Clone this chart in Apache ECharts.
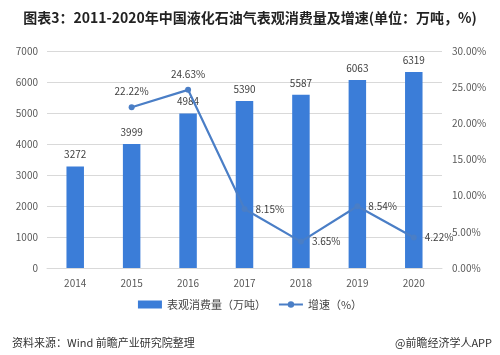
<!DOCTYPE html>
<html><head><meta charset="utf-8">
<script src="https://cdn.jsdelivr.net/npm/echarts@6/dist/echarts.min.js"></script>
<style>html,body{margin:0;padding:0;background:#fff}#c{width:500px;height:355px}</style>
</head><body><div id="c"></div>
<script>
var categories = ['2014','2015','2016','2017','2018','2019','2020'];
var consumption = [3272, 3999, 4984, 5390, 5587, 6063, 6319];
var growth = [null, 22.22, 24.63, 8.15, 3.65, 8.54, 4.22];
var leftTicks = [0, 7000, 1000];
var rightTicks = [0, 30, 5];
var titleText = '图表3：2011-2020年中国液化石油气表观消费量及增速(单位：万吨，%)';
var sourceText = '资料来源：Wind 前瞻产业研究院整理';
var brandText = '@前瞻经济学人APP';
var seriesNames = ['表观消费量（万吨）', '增速（%）'];
var growthLabelPos = [null, 'top', 'top', 'right', 'right', 'right', 'right'];

var font = '"Noto Sans CJK SC", "Noto Sans", sans-serif';
var chart = echarts.init(document.getElementById('c'), null, {renderer: 'canvas'});
chart.setOption({
  animation: false,
  textStyle: {fontFamily: font},
  title: [
    {text: titleText, left: 'center', top: 6, textStyle: {fontSize: 14, fontWeight: 'bold', color: '#222', fontFamily: font}},
    {text: sourceText, left: 7, top: 332, textStyle: {fontSize: 11, fontWeight: 'normal', color: '#333', fontFamily: font}},
    {text: brandText, right: 3, top: 332, textStyle: {fontSize: 11, fontWeight: 'normal', color: '#333', fontFamily: font}}
  ],
  legend: {
    bottom: 40, left: 'center', itemGap: 12, itemWidth: 24, itemHeight: 8,
    textStyle: {fontSize: 11, color: '#444', fontFamily: font},
    data: [{name: seriesNames[0], icon: 'rect'}, {name: seriesNames[1]}]
  },
  grid: {left: 47, right: 58, top: 51, bottom: 87, containLabel: false},
  xAxis: {
    type: 'category', data: categories,
    axisLine: {lineStyle: {color: '#d9d9d9'}},
    axisTick: {show: false},
    axisLabel: {color: '#595959', fontSize: 10, margin: 10}
  },
  yAxis: [
    {type: 'value', min: leftTicks[0], max: leftTicks[1], interval: leftTicks[2],
     axisLine: {show: false}, axisTick: {show: false},
     axisLabel: {color: '#595959', fontSize: 10, margin: 9, formatter: function (v) { return String(v); }},
     splitLine: {lineStyle: {color: '#d9d9d9'}}},
    {type: 'value', min: rightTicks[0], max: rightTicks[1], interval: rightTicks[2],
     axisLine: {show: false}, axisTick: {show: false}, splitLine: {show: false},
     axisLabel: {color: '#595959', fontSize: 10, margin: 10, formatter: function (v) { return v.toFixed(2) + '%'; }}}
  ],
  series: [
    {name: seriesNames[0], type: 'bar', data: consumption, barWidth: '31%',
     itemStyle: {color: '#3b7dd8'},
     label: {show: true, position: 'top', color: '#404040', fontSize: 10, distance: 7}},
    {name: seriesNames[1], type: 'line', yAxisIndex: 1, connectNulls: false,
     data: growth.map(function (v, i) {
       return {value: v, label: {position: growthLabelPos[i] || 'top'}};
     }),
     symbol: 'circle', symbolSize: 6,
     lineStyle: {color: '#4a7ec6', width: 2.2},
     itemStyle: {color: '#4a7ec6'},
     label: {show: true, color: '#404040', fontSize: 10, distance: 8,
       formatter: function (p) { return p.value.toFixed(2) + '%'; }}}
  ]
});
</script></body></html>
